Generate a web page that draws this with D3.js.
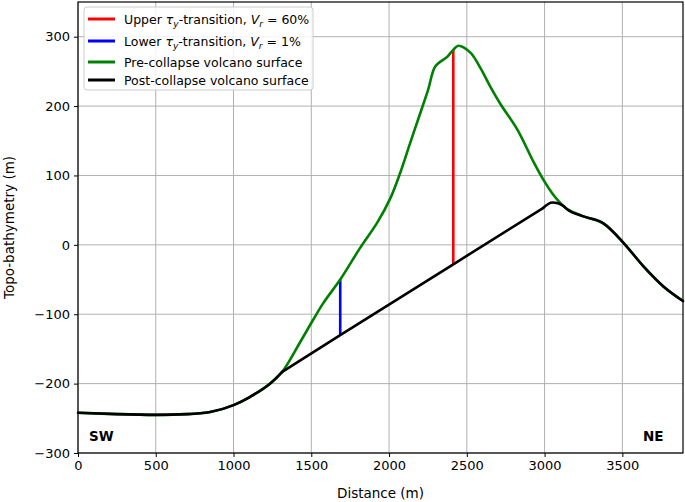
<!DOCTYPE html>
<html>
<head>
<meta charset="utf-8">
<script src="https://cdn.jsdelivr.net/npm/d3@7"></script>
<style>
  body { margin: 0; background: #fff; }
  svg text { font-family: "DejaVu Sans", sans-serif; }
</style>
</head>
<body>
<svg id="chart"></svg>
<script>
const width = 685;
const height = 502;
const margin = {top: 2, right: 2, bottom: 49, left: 78};

// shared seafloor (both surfaces follow it)
const baseDist = [0, 250, 500, 700, 850, 1000, 1107, 1235, 1313];
const baseElev = [-242, -244, -245, -244, -241, -231, -219, -200, -183];
const flankDist = [3121, 3147, 3250, 3378, 3507, 3636, 3764, 3890];
const flankElev = [56, 51, 41, 31, 3, -31, -60, -81];

// pre-collapse edifice
const preDist = [1429, 1512, 1577, 1686, 1815, 1924, 2008, 2072, 2136, 2201, 2252, 2297, 2374, 2413, 2445, 2523, 2587, 2651, 2716, 2825, 2928, 2992, 3050, 3090];
const preElev = [-140, -108, -84, -50, -4, 32, 67, 104, 147, 190, 224, 257, 271, 281, 287, 277, 255, 228, 203, 166, 120, 94, 74, 63];

// post-collapse scar (straight cut), then rounded crest
const postDist = [1313, 1686, 2413, 2990];
const postElev = [-183, -130, -28, 53];
const crestDist = [2990, 3050, 3085];
const crestElev = [53, 61, 60];

// transitions [x, bottom, top]
const upperT = [2413, -28, 281];
const lowerT = [1686, -130, -50];

const xTicks = [0, 500, 1000, 1500, 2000, 2500, 3000, 3500];
const yTicks = [-300, -200, -100, 0, 100, 200, 300];

const svg = d3.select('#chart').attr('width', width).attr('height', height);

const x = d3.scaleLinear().domain([0, 3890]).range([margin.left, width - margin.right]);
const y = d3.scaleLinear().domain([-300, 350]).range([height - margin.bottom, margin.top]);

const zip = (xs, ys) => xs.map((d, i) => [d, ys[i]]);
const pre = zip(baseDist, baseElev).concat(zip(preDist, preElev), zip(flankDist, flankElev));
const postLeft = zip(baseDist, baseElev);
const postCut = zip(postDist, postElev);
const postRight = zip(crestDist, crestElev).concat(zip(flankDist, flankElev));

// grid
svg.append('g').selectAll('line').data(xTicks).join('line')
  .attr('x1', d => x(d)).attr('x2', d => x(d))
  .attr('y1', y(-300)).attr('y2', y(350))
  .attr('stroke', '#b0b0b0').attr('stroke-width', 1);
svg.append('g').selectAll('line').data(yTicks).join('line')
  .attr('y1', d => y(d)).attr('y2', d => y(d))
  .attr('x1', x(0)).attr('x2', x(3890))
  .attr('stroke', '#b0b0b0').attr('stroke-width', 1);

const line = d3.line().x(d => x(d[0])).y(d => y(d[1])).curve(d3.curveMonotoneX);
const smooth = d3.line().x(d => x(d[0])).y(d => y(d[1])).curve(d3.curveCatmullRom.alpha(0.5));
const straight = d3.line().x(d => x(d[0])).y(d => y(d[1]));

svg.append('line')
  .attr('x1', x(upperT[0])).attr('x2', x(upperT[0]))
  .attr('y1', y(upperT[1])).attr('y2', y(upperT[2]))
  .attr('stroke', '#ff0000').attr('stroke-width', 2.6);
svg.append('line')
  .attr('x1', x(lowerT[0])).attr('x2', x(lowerT[0]))
  .attr('y1', y(lowerT[1])).attr('y2', y(lowerT[2]))
  .attr('stroke', '#0000ff').attr('stroke-width', 2.6);

svg.append('path').datum(pre).attr('d', smooth)
  .attr('fill', 'none').attr('stroke', '#008000').attr('stroke-width', 2.6);

const post = svg.append('g').attr('fill', 'none').attr('stroke', '#000')
  .attr('stroke-width', 2.6).attr('stroke-linejoin', 'round').attr('stroke-linecap', 'round');
post.append('path').datum(postLeft).attr('d', line);
post.append('path').datum(postCut).attr('d', straight);
post.append('path').datum(postRight).attr('d', line);

// axes
const fmt = d => d < 0 ? '\u2212' + Math.abs(d) : String(d);
const xAxis = svg.append('g').attr('transform', `translate(0, ${y(-300)})`)
  .call(d3.axisBottom(x).tickValues(xTicks).tickSize(4).tickPadding(4).tickFormat(fmt));
const yAxis = svg.append('g').attr('transform', `translate(${x(0)}, 0)`)
  .call(d3.axisLeft(y).tickValues(yTicks).tickSize(4).tickPadding(4).tickFormat(fmt));
[xAxis, yAxis].forEach(a => {
  a.select('.domain').remove();
  a.selectAll('text').attr('font-size', 13).attr('fill', '#000').style('font-family', '"DejaVu Sans", sans-serif');
  a.selectAll('line').attr('stroke', '#000');
});

// frame
svg.append('rect')
  .attr('x', x(0)).attr('y', y(350))
  .attr('width', x(3890) - x(0)).attr('height', y(-300) - y(350))
  .attr('fill', 'none').attr('stroke', '#000').attr('stroke-width', 1.2);

svg.append('text').attr('x', (x(0) + x(3890)) / 2).attr('y', 498)
  .attr('text-anchor', 'middle').attr('font-size', 13.5).text('Distance (m)');
svg.append('text')
  .attr('transform', `translate(14, ${(y(-300) + y(350)) / 2}) rotate(-90)`)
  .attr('text-anchor', 'middle').attr('font-size', 13.5).text('Topo-bathymetry (m)');

svg.append('text').attr('x', 89).attr('y', 441).attr('font-size', 13.5)
  .attr('font-weight', 'bold').text('SW');
svg.append('text').attr('x', 643).attr('y', 441).attr('font-size', 13.5)
  .attr('font-weight', 'bold').text('NE');

// legend
const lg = svg.append('g');
lg.append('rect').attr('x', 84).attr('y', 7).attr('width', 229).attr('height', 83).attr('rx', 3)
  .attr('fill', '#fff').attr('fill-opacity', 0.85).attr('stroke', '#ccc');
const items = [
  {c: '#ff0000', lbl: ['Upper ', 'τ', 'y', '-transition, ', 'V', 'r', ' = 60%']},
  {c: '#0000ff', lbl: ['Lower ', 'τ', 'y', '-transition, ', 'V', 'r', ' = 1%']},
  {c: '#008000', lbl: ['Pre-collapse volcano surface']},
  {c: '#000000', lbl: ['Post-collapse volcano surface']}
];
const rowY = [19, 41, 62, 80];
items.forEach((it, i) => {
  lg.append('line').attr('x1', 88).attr('x2', 115).attr('y1', rowY[i]).attr('y2', rowY[i])
    .attr('stroke', it.c).attr('stroke-width', 3);
  const t = lg.append('text').attr('x', 124).attr('y', rowY[i] + 4.5).attr('font-size', 12.5);
  if (it.lbl.length === 1) { t.text(it.lbl[0]); return; }
  t.append('tspan').text(it.lbl[0]);
  t.append('tspan').attr('font-style', 'italic').text(it.lbl[1]);
  t.append('tspan').attr('font-style', 'italic').attr('font-size', 9).attr('dy', 3).text(it.lbl[2]);
  t.append('tspan').attr('dy', -3).text(it.lbl[3]);
  t.append('tspan').attr('font-style', 'italic').text(it.lbl[4]);
  t.append('tspan').attr('font-style', 'italic').attr('font-size', 9).attr('dy', 3).text(it.lbl[5]);
  t.append('tspan').attr('dy', -3).text(it.lbl[6]);
});
</script>
</body>
</html>
